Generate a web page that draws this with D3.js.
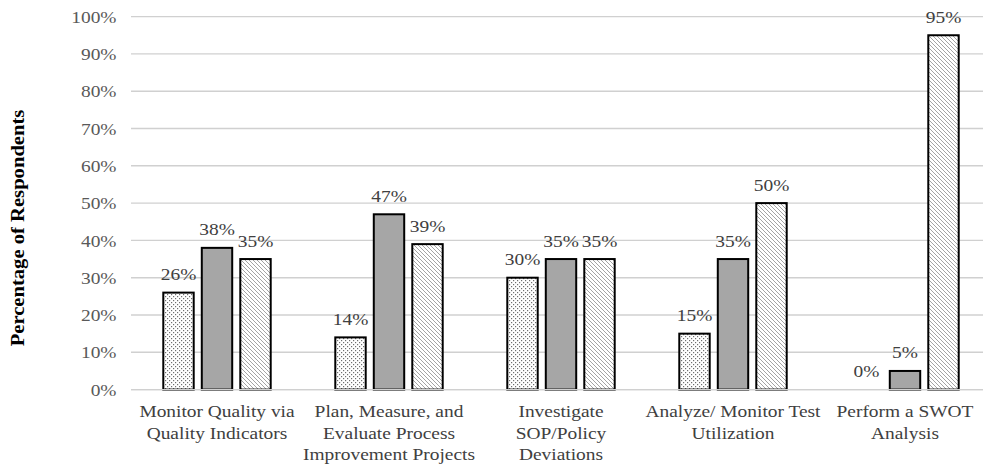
<!DOCTYPE html>
<html>
<head>
<meta charset="utf-8">
<script src="https://cdn.jsdelivr.net/npm/d3@7"></script>
<style>
  html, body { margin: 0; padding: 0; background: #fff; }
  svg { display: block; }
  text { font-family: "Liberation Serif", "Times New Roman", serif; }
</style>
</head>
<body>
<svg id="chart" width="983" height="470"></svg>
<script>
// Survey activities (category axis), one label line per entry
const categories = [
  ["Monitor Quality via", "Quality Indicators"],
  ["Plan, Measure, and", "Evaluate Process", "Improvement Projects"],
  ["Investigate", "SOP/Policy", "Deviations"],
  ["Analyze/ Monitor Test", "Utilization"],
  ["Perform a SWOT", "Analysis"]
];

// Three response series, in percent
const seriesNames = ["s1", "s2", "s3"];
const series1 = [26, 14, 30, 15, 0];
const series2 = [38, 47, 35, 35, 5];
const series3 = [35, 39, 35, 50, 95];

// Value axis ticks
const yTicks = [0, 10, 20, 30, 40, 50, 60, 70, 80, 90, 100];

const yTitle = "Percentage of Respondents";

const svg = d3.select("#chart");
const width = 983, height = 470;
const margin = { left: 131, right: -8, top: 16.6, bottom: 80.4 };
const SX = 1.11; // horizontal stretch of the serif lettering
const FS = "17.5px";

// Fill patterns for the hatched series
const defs = svg.append("defs");
const dots = defs.append("pattern")
  .attr("id", "dots").attr("patternUnits", "userSpaceOnUse")
  .attr("width", 4).attr("height", 4);
dots.append("rect").attr("width", 4).attr("height", 4).attr("fill", "#ffffff");
dots.append("rect").attr("x", 0).attr("y", 0).attr("width", 1.2).attr("height", 1.2).attr("fill", "#6e6e6e");
dots.append("rect").attr("x", 2).attr("y", 2).attr("width", 1.2).attr("height", 1.2).attr("fill", "#6e6e6e");

const diag = defs.append("pattern")
  .attr("id", "diag").attr("patternUnits", "userSpaceOnUse")
  .attr("width", 4).attr("height", 4);
diag.append("rect").attr("width", 4).attr("height", 4).attr("fill", "#ffffff");
diag.append("path").attr("d", "M-1,-1 L5,5 M-1,3 L1,5 M3,-1 L5,1")
  .attr("stroke", "#a4a4a4").attr("stroke-width", 1);

const fills = { s1: "url(#dots)", s2: "#a6a6a6", s3: "url(#diag)" };

const x0 = d3.scaleBand()
  .domain(d3.range(categories.length))
  .range([margin.left, width - margin.right])
  .paddingInner(0).paddingOuter(0);

const groupW = 115.5;
const x1 = d3.scaleBand()
  .domain(seriesNames)
  .range([-groupW / 2, groupW / 2])
  .paddingInner(0.21).paddingOuter(0.105);

const y = d3.scaleLinear()
  .domain([0, 100])
  .range([height - margin.bottom, margin.top]);

// Gridlines
svg.append("g")
  .selectAll("line")
  .data(yTicks)
  .join("line")
  .attr("x1", margin.left)
  .attr("x2", width - margin.right)
  .attr("y1", d => y(d))
  .attr("y2", d => y(d))
  .attr("stroke", "#d0d0d0")
  .attr("stroke-width", 1.4);

// Value axis labels
const yAxis = d3.axisLeft(y)
  .tickValues(yTicks)
  .tickFormat(d => d + "%")
  .tickSize(0)
  .tickPadding(0);
const yg = svg.append("g")
  .attr("transform", `translate(${margin.left},0)`)
  .call(yAxis);
yg.select(".domain").remove();
yg.selectAll("text")
  .attr("x", -14.5 / SX)
  .attr("transform", `scale(${SX},1)`)
  .attr("fill", "#595959")
  .style("font-size", FS)
  .style("font-family", "'Liberation Serif', 'Times New Roman', serif");

// Axis title
svg.append("text")
  .attr("transform", `translate(24,228) rotate(-90) scale(${SX},1)`)
  .attr("text-anchor", "middle")
  .attr("fill", "#000")
  .style("font-size", "18.6px")
  .style("font-weight", "bold")
  .text(yTitle);

// Bars
const rows = categories.map((c, i) => ({
  i,
  values: [
    { key: "s1", v: series1[i] },
    { key: "s2", v: series2[i] },
    { key: "s3", v: series3[i] }
  ]
}));

const groups = svg.append("g")
  .selectAll("g")
  .data(rows)
  .join("g")
  .attr("transform", d => `translate(${x0(d.i) + x0.bandwidth() / 2},0)`);

groups.selectAll("rect")
  .data(d => d.values.filter(v => v.v > 0))
  .join("rect")
  .attr("x", d => x1(d.key))
  .attr("width", x1.bandwidth())
  .attr("y", d => y(d.v))
  .attr("height", d => y(0) - y(d.v))
  .attr("fill", d => fills[d.key])
  .attr("stroke", "#000")
  .attr("stroke-width", 2);

// Value labels
groups.selectAll("text.val")
  .data(d => d.values)
  .join("text")
  .attr("class", "val")
  .attr("transform", d => `translate(${x1(d.key) + x1.bandwidth() / 2},${y(d.v) - 12.5}) scale(${SX},1)`)
  .attr("text-anchor", "middle")
  .attr("fill", "#404040")
  .style("font-size", FS)
  .text(d => d.v + "%");

// Baseline
svg.append("line")
  .attr("x1", margin.left)
  .attr("x2", width - margin.right)
  .attr("y1", y(0))
  .attr("y2", y(0))
  .attr("stroke", "#d0d0d0")
  .attr("stroke-width", 1.4);

// Category labels
const catG = svg.append("g")
  .attr("transform", `scale(${SX},1)`)
  .selectAll("text")
  .data(categories)
  .join("text")
  .attr("x", (d, i) => (x0(i) + x0.bandwidth() / 2) / SX)
  .attr("y", 417.5)
  .attr("text-anchor", "middle")
  .attr("fill", "#404040")
  .style("font-size", FS);
catG.selectAll("tspan")
  .data(d => d)
  .join("tspan")
  .attr("x", function () { return d3.select(this.parentNode).attr("x"); })
  .attr("dy", (d, j) => j === 0 ? 0 : 21.5)
  .text(d => d);
</script>
</body>
</html>
